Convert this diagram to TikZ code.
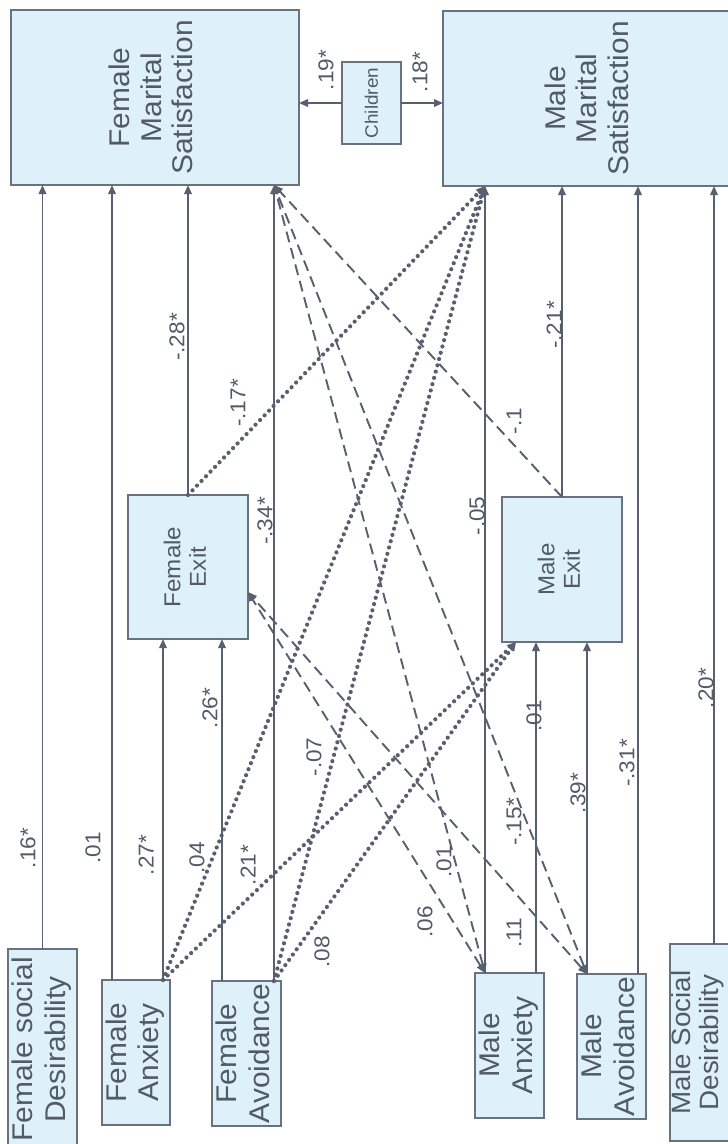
\documentclass[tikz,border=0pt]{standalone}
\usepackage{fontspec}
\setmainfont{Liberation Sans}[FakeStretch=1.05]
\usetikzlibrary{arrows.meta,calc}
\definecolor{boxfill}{HTML}{DEF1F9}
\definecolor{boxline}{HTML}{6A7282}
\definecolor{ink}{HTML}{525A68}
\definecolor{wire}{HTML}{585F6E}
\newcommand{\bigtxt}[1]{\rotatebox{90}{\fontsize{28.5}{31.5}\selectfont\begin{tabular}{@{}c@{}}#1\end{tabular}}}
\newcommand{\smtxt}[1]{\rotatebox{90}{\fontsize{28.5}{32.5}\selectfont\begin{tabular}{@{}c@{}}#1\end{tabular}}}
\newcommand{\edgetxt}[1]{\rotatebox{90}{\fontsize{26.5}{28.5}\selectfont\begin{tabular}{@{}c@{}}#1\end{tabular}}}
\newcommand{\extxt}[1]{\rotatebox{90}{\fontsize{23}{25.7}\selectfont\begin{tabular}{@{}c@{}}#1\end{tabular}}}
\newcommand{\rl}[1]{\rotatebox{90}{#1}}
\begin{document}
\begin{tikzpicture}[x=1pt,y=-1pt,
  box/.style={draw=boxline,line width=1.3pt,fill=boxfill,inner sep=0pt,outer sep=0pt,text=ink},
  lab/.style={inner sep=0pt,text=ink,font=\fontsize{21.5}{23}\selectfont},
  tip/.tip={Triangle[length=9pt,width=7.5pt]},
  solidarr/.style={draw=wire,line width=1.9pt,-tip},
  dasharr/.style={draw=wire,line width=1.9pt,dash pattern=on 11pt off 6pt,tip-tip},
  dashone/.style={draw=wire,line width=1.9pt,dash pattern=on 11pt off 6pt,-tip},
  dotarr/.style={draw=wire,line width=4.2pt,dash pattern=on 0pt off 6.5pt,line cap=round,-tip}]
\useasboundingbox (0,0) rectangle (728,1144);
\fill[white] (0,0) rectangle (728,1144);
\clip (0,0) rectangle (728,1144);

% boxes
\node[box,minimum width=288,minimum height=175] (fms) at (155,97.5) {\bigtxt{Female\\Marital\\Satisfaction}};
\node[box,minimum width=295,minimum height=175] (mms) at (590.5,98.5) {\bigtxt{Male\\Marital\\Satisfaction}};
\node[box,minimum width=59,minimum height=82] (ch) at (371.5,103) {\rl{\fontsize{18}{20}\selectfont Children}};
\node[box,minimum width=120,minimum height=144] (fex) at (188,567) {\extxt{Female\\Exit}};
\node[box,minimum width=120,minimum height=145] (mex) at (562,569.5) {\extxt{Male\\Exit}};
\node[box,minimum width=69,minimum height=201] (fsd) at (42.5,1049.5) {\smtxt{Female social\\Desirability}};
\node[box,minimum width=68,minimum height=145] (fa) at (136,1052.5) {\smtxt{Female\\Anxiety}};
\node[box,minimum width=69,minimum height=145] (fav) at (246.5,1053.5) {\smtxt{Female\\Avoidance}};
\node[box,minimum width=69,minimum height=145] (ma) at (509.5,1045.5) {\smtxt{Male\\Anxiety}};
\node[box,minimum width=69,minimum height=145] (mav) at (611.5,1046.5) {\smtxt{Male\\Avoidance}};
\node[box,minimum width=68,minimum height=197] (msd) at (704,1042.5) {\hspace*{-10pt}\edgetxt{Male Social\\Desirability}};

% ports
\coordinate (fa1) at ([xshift=10pt]fa.north west);
\coordinate (fa2) at ([xshift=61pt]fa.north west);
\coordinate (fav1) at ([xshift=10pt]fav.north west);
\coordinate (fav2) at ([xshift=62pt]fav.north west);
\coordinate (ma1) at ([xshift=10pt]ma.north west);
\coordinate (ma2) at ([xshift=61pt]ma.north west);
\coordinate (mav1) at ([xshift=10pt]mav.north west);
\coordinate (mav2) at ([xshift=61pt]mav.north west);
\coordinate (msd1) at ([xshift=44pt]msd.north west);
\coordinate (fexR) at ([yshift=-25pt]fex.east);
\coordinate (mexL) at ([xshift=14pt]mex.south west);

% solid paths
\draw[solidarr] (fsd.north) -- (fsd.north |- fms.south);
\draw[solidarr] (fa1) -- (fa1 |- fms.south);
\draw[solidarr] (fa2) -- (fa2 |- fex.south);
\draw[solidarr] (fav1) -- (fav1 |- fex.south);
\draw[solidarr] (fav2) -- (fav2 |- fms.south);
\draw[solidarr] (fex.north) -- (fex.north |- fms.south);
\draw[solidarr] (ma1) -- (ma1 |- mms.south);
\draw[solidarr] (ma2) -- (ma2 |- mex.south);
\draw[solidarr] (mav1) -- (mav1 |- mex.south);
\draw[solidarr] (mav2) -- (mav2 |- mms.south);
\draw[solidarr] (msd1) -- (msd1 |- mms.south);
\draw[solidarr] (mex.north) -- (mex.north |- mms.south);
\draw[solidarr] (ch.west) -- (ch.west -| fms.east);
\draw[solidarr] (ch.east) -- (ch.east -| mms.west);

% dashed paths
\draw[dasharr] (ma1) -- (fav2 |- fms.south);
\draw[dasharr] (ma1) -- (fexR);
\draw[dasharr] (mav1) -- (fav2 |- fms.south);
\draw[dasharr] (mav1) -- (fexR);
\draw[dashone] (mex.north) -- (fav2 |- fms.south);

% dotted paths
\draw[dotarr] (fa2) -- (ma1 |- mms.south);
\draw[dotarr] (fa2) -- (mexL);
\draw[dotarr] (fav2) -- (ma1 |- mms.south);
\draw[dotarr] (fav2) -- (mexL);
\draw[dotarr] (fex.north) -- (ma1 |- mms.south);

% labels
\node[lab] (l1) at (28,848) {\rl{.16*}};
\node[lab] (l2) at (93,848) {\rl{.01}};
\node[lab] (l3) at (146,855) {\rl{.27*}};
\node[lab] (l4) at (197,858) {\rl{.04}};
\node[lab] (l5) at (248,865) {\rl{.21*}};
\node[lab] (l6) at (210,708) {\rl{.26*}};
\node[lab] (l7) at (314,757) {\rl{-.07}};
\node[lab] (l8) at (322,952) {\rl{.08}};
\node[lab] (l9) at (425,922) {\rl{.06}};
\node[lab] (l10) at (444,862) {\rl{.01}};
\node[lab] (l11) at (514,822) {\rl{-.15*}};
\node[lab] (l12) at (514,933) {\rl{.11}};
\node[lab] (l13) at (534,716) {\rl{.01}};
\node[lab] (l14) at (578,793) {\rl{.39*}};
\node[lab] (l15) at (627,763) {\rl{-.31*}};
\node[lab] (l16) at (706,688) {\rl{.20*}};
\node[lab] (l17) at (477,516) {\rl{-.05}};
\node[lab] (l18) at (265,521) {\rl{-.34*}};
\node[lab] (l19) at (177,337) {\rl{-.28*}};
\node[lab] (l20) at (238,403) {\rl{-.17*}};
\node[lab] (l21) at (554,325) {\rl{-.21*}};
\node[lab] (l22) at (514,421) {\rl{-.1}};
\node[lab] (l23) at (326,70) {\rl{.19*}};
\node[lab] (l24) at (420,72) {\rl{.18*}};
\end{tikzpicture}
\end{document}
